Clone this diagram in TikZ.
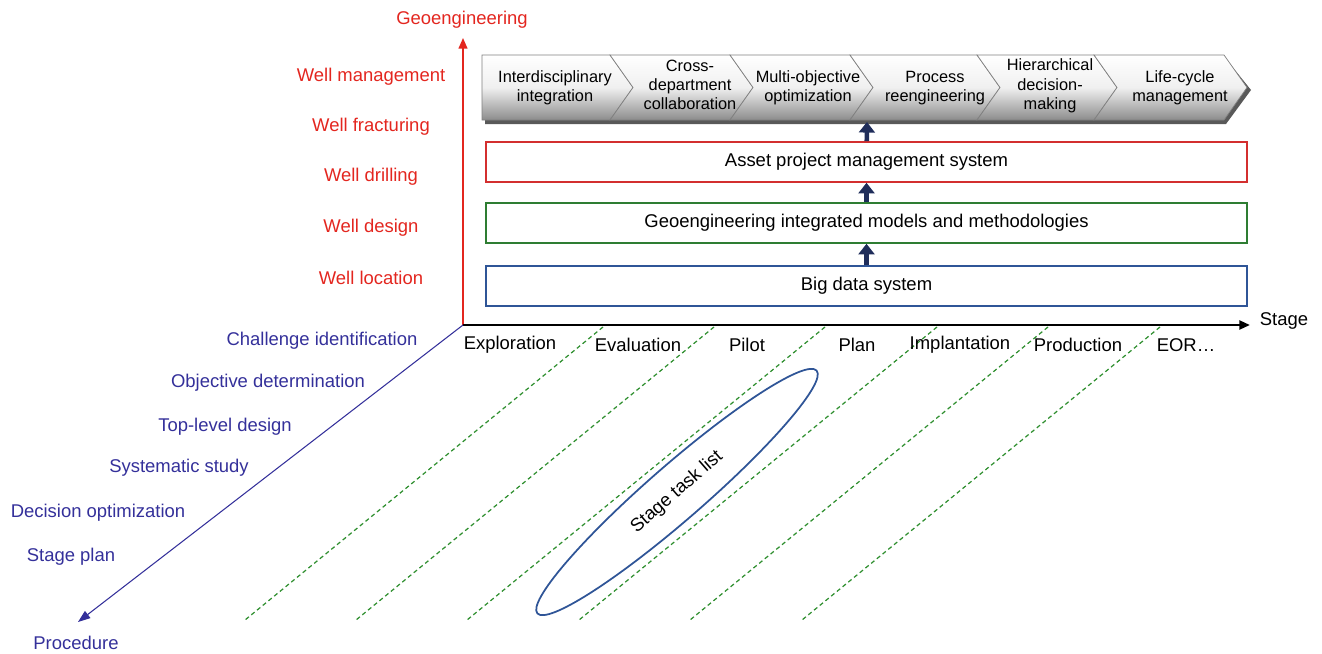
\documentclass[tikz,border=0pt]{standalone}
\usepackage{fontspec}
\setmainfont{Liberation Sans}
\usepackage{xcolor}
\definecolor{geoRed}{HTML}{E3261F}
\definecolor{procBlue}{HTML}{34309A}
\definecolor{boxBlue}{HTML}{2F5597}
\definecolor{boxGreen}{HTML}{2E7D32}
\definecolor{boxRed}{HTML}{D32F2F}
\definecolor{dashGreen}{HTML}{2F8F2F}
\definecolor{upNavy}{HTML}{1F2D5A}
\usetikzlibrary{arrows.meta,shapes.geometric}

\begin{document}
\begin{tikzpicture}[x=0.2mm, y=-0.2mm,
    lbl/.style={font=\fontsize{10.5}{12.6}\selectfont, inner sep=1pt},
    geo/.style={lbl, text=geoRed},
    proc/.style={lbl, text=procBlue},
    layer/.style={lbl, draw=#1, line width=0.9pt, minimum width=152.2mm, minimum height=8mm},
    chev/.style={draw=black!50, top color=white, bottom color=black!45, middle color=black!6},
    chevtxt/.style={font=\fontsize{9.3}{11}\selectfont, align=center, inner sep=0pt},
    up/.style={-{Triangle[length=6pt,width=9pt]}, line width=2.6pt, upNavy},
    stagegrid/.style={dashGreen, dash pattern=on 2.4pt off 1.8pt, line width=0.7pt}
  ]
    \useasboundingbox (0,0) rectangle (1322,653);

    % axes
    \coordinate (O) at (463,325);
    \coordinate (geoTip) at (463,38);
    \coordinate (stageTip) at (1250,325);
    \coordinate (procTip) at (78,622);
    \node[geo] (geoLbl) at (462,20) {Geoengineering};
    \node[lbl] (stageLbl) at (1284,321) {Stage};
    \node[proc] (procLbl) at (76,643) {Procedure};

    % stage grid
    \foreach \x in {603,714,825,937,1048,1160}
      \draw[stagegrid] (\x,327) -- (\x-358,620);

    \draw[-{Triangle[length=6pt,width=5pt]}, geoRed, line width=0.9pt] (O) -- (geoTip);
    \draw[-{Triangle[length=6pt,width=5pt]}, line width=1.4pt] (O) -- (stageTip);
    \draw[-{Triangle[length=7pt,width=5pt]}, procBlue, line width=0.6pt] (O) -- (procTip);

    % geoengineering levels
    \foreach \t/\y [count=\i] in {Well management/77, Well fracturing/127, Well drilling/177, Well design/228, Well location/278}
      \node[geo] (geo\i) at (371,\y) {\t};

    % procedure steps
    \foreach \t/\x/\y [count=\i] in {Challenge identification/322/341, Objective determination/268/383, Top-level design/225/427,
        Systematic study/179/468, Decision optimization/98/513, Stage plan/71/557}
      \node[proc] (proc\i) at (\x,\y) {\t};

    % stages
    \foreach \t/\x [count=\i] in {Exploration/510, Evaluation/638, Pilot/747, Plan/857, Implantation/960, Production/1078, EOR\ldots/1186}
      \node[lbl] (stage\i) at (\x,345) {\t};

    \node[draw=boxBlue, line width=1pt, ellipse, minimum width=74mm, minimum height=11mm, rotate=41, lbl] (task) at (677,492) {Stage task list};

    % layers
    \node[layer=boxBlue] (bigdata) at (866.5,286) {Big data system};
    \node[layer=boxGreen] (models) at (866.5,223) {Geoengineering integrated models and methodologies};
    \node[layer=boxRed] (apms) at (866.5,162) {Asset project management system};

    % chevron bar
    \fill[black!65] (485,59) -- (1226,59) -- (1251,90) -- (1226,124) -- (485,124) -- cycle;
    \foreach \l/\t/\d in {482/633/0, 610/753/23, 730/873/23, 850/1000/23, 977/1117/23, 1094/1247/23}
      \path[chev] (\l,55) -- (\t-23,55) -- (\t,87.5) -- (\t-23,120) -- (\l,120) -- (\l+\d,87.5) -- cycle;
    \coordinate (bar) at (867,122);
    \node[chevtxt] (chev1) at (555,88) {Interdisciplinary\\integration};
    \node[chevtxt] (chev2) at (690,85) {Cross-\\department\\collaboration};
    \node[chevtxt] (chev3) at (808,88) {Multi-objective\\optimization};
    \node[chevtxt] (chev4) at (935,88) {Process\\reengineering};
    \node[chevtxt] (chev5) at (1050,86) {Hierarchical\\decision-\\making};
    \node[chevtxt] (chev6) at (1180,88) {Life-cycle\\management};

    \draw[up] (bigdata) -- (models);
    \draw[up] (models) -- (apms);
    \draw[up] (apms) -- (bar);
  \end{tikzpicture}
\end{document}
